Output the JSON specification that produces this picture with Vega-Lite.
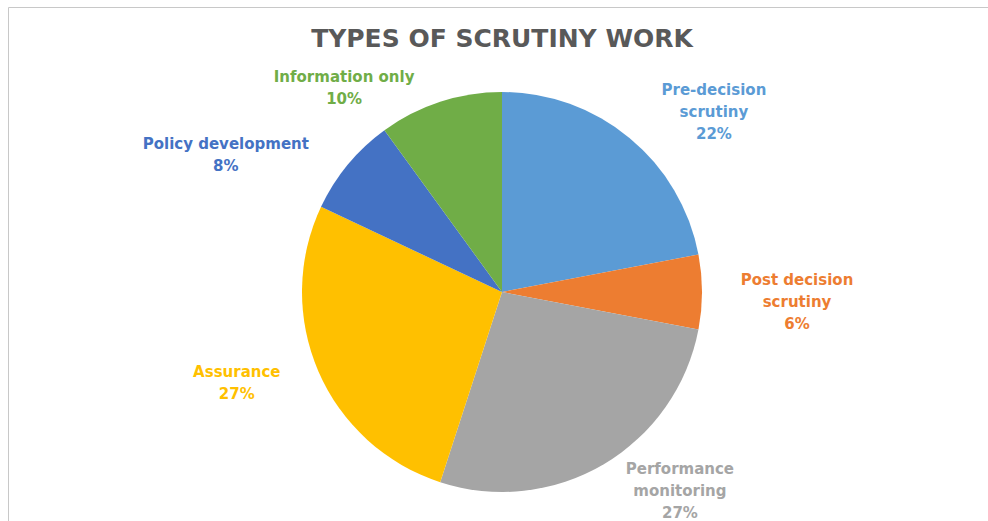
{
  "$schema": "https://vega.github.io/schema/vega-lite/v6.json",
  "width": 988,
  "height": 570,
  "autosize": {"type": "none"},
  "padding": {"left": 8, "top": 7, "right": 0, "bottom": 0},
  "background": "white",
  "view": {"stroke": "#c8c8c8", "strokeWidth": 1, "fill": "white"},
  "config": {"view": {"stroke": "#c8c8c8", "strokeWidth": 1}, "font": "DejaVu Sans"},
  "title": {"text": "TYPES OF SCRUTINY WORK", "fontSize": 25, "font": "DejaVu Sans", "fontWeight": "bold", "color": "#595959", "anchor": "middle", "offset": -45},
  "data": {"values": [
    {"idx": 1, "category": "Pre-decision scrutiny", "share": 22, "label": "Pre-decision\nscrutiny\n22%"},
    {"idx": 2, "category": "Post decision scrutiny", "share": 6, "label": "Post decision\nscrutiny\n6%"},
    {"idx": 3, "category": "Performance monitoring", "share": 27, "label": "Performance\nmonitoring\n27%"},
    {"idx": 4, "category": "Assurance", "share": 27, "label": "Assurance\n27%"},
    {"idx": 5, "category": "Policy development", "share": 8, "label": "Policy development\n8%"},
    {"idx": 6, "category": "Information only", "share": 10, "label": "Information only\n10%"}
  ]},
  "transform": [
    {"stack": "share", "groupby": [], "sort": [{"field": "idx", "order": "ascending"}], "as": ["s0", "s1"]},
    {"calculate": "(datum.s0 + datum.s1) / 2", "as": "mid"}
  ],
  "encoding": {
    "color": {
      "field": "category", "type": "nominal", "legend": null,
      "scale": {
        "domain": ["Pre-decision scrutiny", "Post decision scrutiny", "Performance monitoring", "Assurance", "Policy development", "Information only"],
        "range": ["#5B9BD5", "#ED7D31", "#A5A5A5", "#FFC000", "#4472C4", "#70AD47"]
      }
    }
  },
  "layer": [
    {
      "mark": {"type": "arc", "outerRadius": 200},
      "encoding": {
        "theta": {"field": "s0", "type": "quantitative", "scale": {"domain": [0, 100]}},
        "theta2": {"field": "s1"}
      }
    },
    {
      "transform": [{"filter": "datum.idx == 1"}],
      "mark": {"type": "text", "radius": 265, "dx": 43, "dy": 2, "fontSize": 15, "fontWeight": "bold", "lineHeight": 22, "lineBreak": "\n", "align": "center", "baseline": "middle"},
      "encoding": {"theta": {"field": "mid", "type": "quantitative", "scale": {"domain": [0, 100]}}, "text": {"field": "label"}}
    },
    {
      "transform": [{"filter": "datum.idx == 2"}],
      "mark": {"type": "text", "radius": 265, "dx": 30, "dy": -12, "fontSize": 15, "fontWeight": "bold", "lineHeight": 22, "lineBreak": "\n", "align": "center", "baseline": "middle"},
      "encoding": {"theta": {"field": "mid", "type": "quantitative", "scale": {"domain": [0, 100]}}, "text": {"field": "label"}}
    },
    {
      "transform": [{"filter": "datum.idx == 3"}],
      "mark": {"type": "text", "radius": 265, "dx": 43, "dy": -51, "fontSize": 15, "fontWeight": "bold", "lineHeight": 22, "lineBreak": "\n", "align": "center", "baseline": "middle"},
      "encoding": {"theta": {"field": "mid", "type": "quantitative", "scale": {"domain": [0, 100]}}, "text": {"field": "label"}}
    },
    {
      "transform": [{"filter": "datum.idx == 4"}],
      "mark": {"type": "text", "radius": 265, "dx": -22, "dy": -25, "fontSize": 15, "fontWeight": "bold", "lineHeight": 22, "lineBreak": "\n", "align": "center", "baseline": "middle"},
      "encoding": {"theta": {"field": "mid", "type": "quantitative", "scale": {"domain": [0, 100]}}, "text": {"field": "label"}}
    },
    {
      "transform": [{"filter": "datum.idx == 5"}],
      "mark": {"type": "text", "radius": 265, "dx": -72, "dy": 21, "fontSize": 15, "fontWeight": "bold", "lineHeight": 22, "lineBreak": "\n", "align": "center", "baseline": "middle"},
      "encoding": {"theta": {"field": "mid", "type": "quantitative", "scale": {"domain": [0, 100]}}, "text": {"field": "label"}}
    },
    {
      "transform": [{"filter": "datum.idx == 6"}],
      "mark": {"type": "text", "radius": 265, "dx": -76, "dy": 37, "fontSize": 15, "fontWeight": "bold", "lineHeight": 22, "lineBreak": "\n", "align": "center", "baseline": "middle"},
      "encoding": {"theta": {"field": "mid", "type": "quantitative", "scale": {"domain": [0, 100]}}, "text": {"field": "label"}}
    }
  ]
}
